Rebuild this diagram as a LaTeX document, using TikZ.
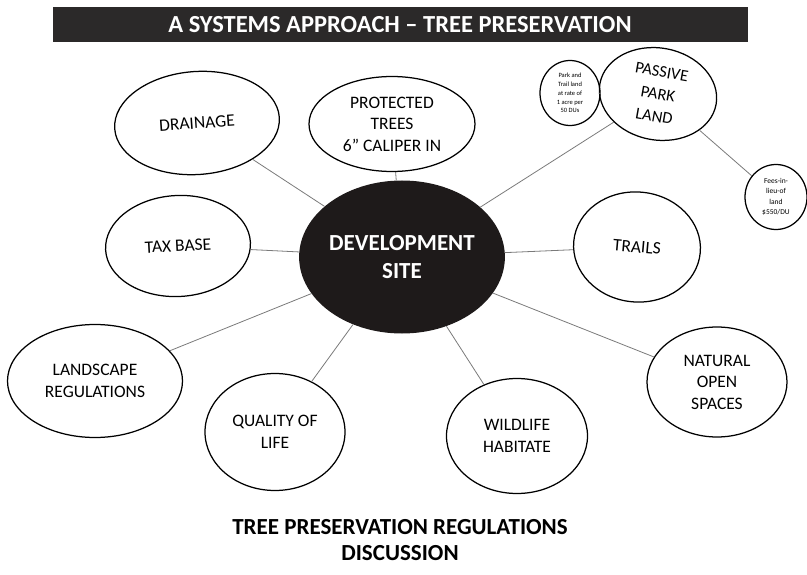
\documentclass[tikz,border=0pt]{standalone}
\usepackage{fontspec}
\setmainfont{Carlito}
\usetikzlibrary{shapes.geometric}
\definecolor{barblack}{HTML}{2B2929}
\definecolor{siteblack}{HTML}{1E1A1A}
\definecolor{linkgray}{HTML}{7A7A7A}

\begin{document}
\begin{tikzpicture}[x=1pt, y=-1pt,
  bubble/.style={draw, ellipse, line width=1.25pt, inner sep=0pt, align=center,
    font=\fontsize{17.5}{21.5}\selectfont},
  note/.style={draw, ellipse, line width=1.25pt, inner sep=0pt, align=center,
    font=\fontsize{6.5}{8.8}\selectfont},
  link/.style={draw=linkgray, line width=0.8pt}
]
\useasboundingbox (0,0) rectangle (807,575);

% banner across the top
\node[fill=barblack, text=white, minimum width=695, minimum height=35, inner sep=0pt,
  font=\bfseries\fontsize{24.5}{27}\selectfont] (title) at (400,25)
  {A SYSTEMS APPROACH -- TREE PRESERVATION};

% the hub
\node[ellipse, fill=siteblack, text=white, minimum width=190, minimum height=153,
  inner sep=0pt, align=center, font=\bfseries\fontsize{23}{28}\selectfont] (site)
  at (402,257) {DEVELOPMENT\\SITE};

% bubbles round the hub
\node[bubble, minimum width=165, minimum height=103, rotate=4] (drainage) at (197,123) {DRAINAGE};
\node[bubble, minimum width=166, minimum height=95] (trees) at (392,124) {PROTECTED\\TREES\\6'' CALIPER IN};
\node[bubble, minimum width=118, minimum height=92, rotate=-10,
  font=\fontsize{16.5}{22.5}\selectfont] (park) at (658,94) {PASSIVE\\PARK\\LAND};
\node[bubble, minimum width=127, minimum height=110, rotate=-5] (trails) at (637,247) {TRAILS};
\node[bubble, minimum width=145, minimum height=101, rotate=3] (taxbase) at (178,246) {TAX BASE};
\node[bubble, minimum width=175, minimum height=113] (landscape) at (95,381) {LANDSCAPE\\REGULATIONS};
\node[bubble, minimum width=140, minimum height=117] (quality) at (275,432) {QUALITY OF\\LIFE};
\node[bubble, minimum width=141, minimum height=115] (wildlife) at (517,436) {WILDLIFE\\HABITATE};
\node[bubble, minimum width=140, minimum height=110] (natural) at (717,382) {NATURAL\\OPEN\\SPACES};

% small notes beside the park land
\node[note, minimum width=60, minimum height=65] (parkrate) at (570,93) {Park and\\Trail land\\at rate of\\1 acre per\\50 DUs};
\node[note, minimum width=62, minimum height=65, font=\fontsize{7.5}{10.5}\selectfont] (fees) at (776,197) {Fees-in-\\lieu-of\\land\\\$550/DU};

% connectors
\draw[link] (drainage) -- (site);
\draw[link] (trees) -- (site);
\draw[link] (park) -- (site);
\draw[link] (trails) -- (site);
\draw[link] (taxbase) -- (site);
\draw[link] (landscape) -- (site);
\draw[link] (quality) -- (site);
\draw[link] (wildlife) -- (site);
\draw[link] (natural) -- (site);
\draw[link] (parkrate) -- (park);
\draw[link] (park) -- (fees);

% caption
\node[align=center, font=\bfseries\fontsize{23}{26}\selectfont] (caption) at (400,540)
  {TREE PRESERVATION REGULATIONS\\DISCUSSION};
\end{tikzpicture}
\end{document}
